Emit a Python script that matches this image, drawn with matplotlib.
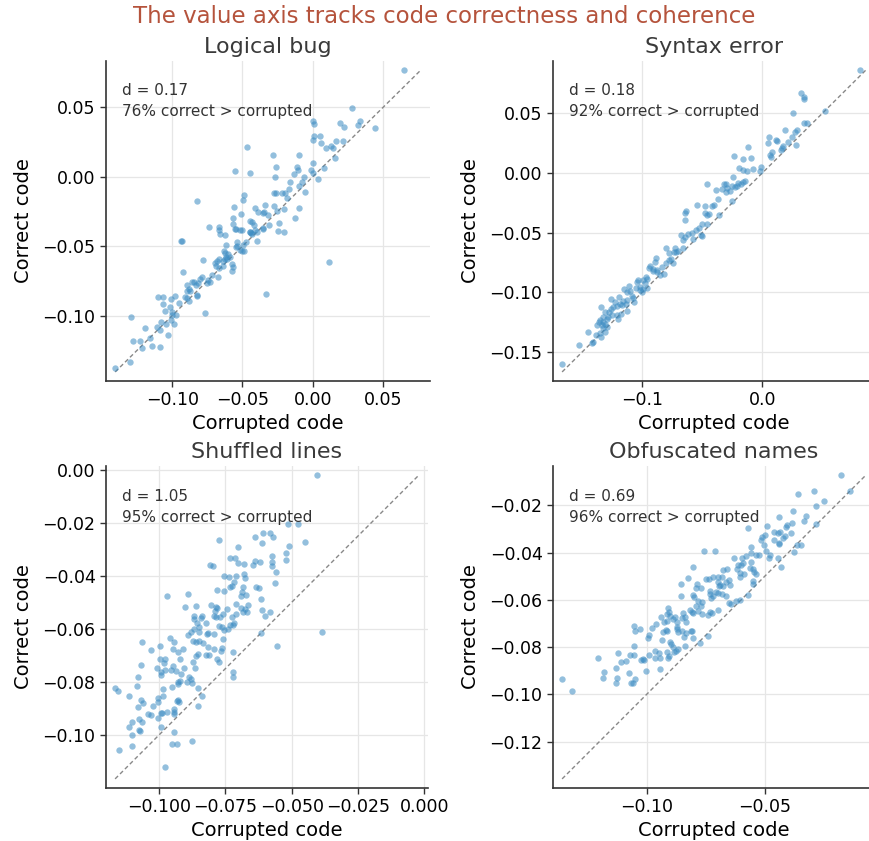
import numpy as np
import matplotlib
matplotlib.use("Agg")
import matplotlib.pyplot as plt
from matplotlib.ticker import MultipleLocator

# (corrupted, correct) value-axis scores per snippet
logical_bug = [
    (0.0645, 0.0768), (0.0281, 0.0495), (0.0, 0.040), (0.001, 0.038), (0.019, 0.039),
    (0.022, 0.036), (0.032, 0.037), (0.0336, 0.040), (0.044, 0.035), (-0.047, 0.0216),
    (0.0, 0.0265), (0.0005, 0.029), (0.005, 0.029), (0.0055, 0.024), (0.0093, 0.021),
    (0.0126, 0.022), (0.0142, 0.0206), (0.0164, 0.0254), (0.0214, 0.0256), (0.0157, 0.0137),
    (-0.0286, 0.0154), (-0.010, 0.0159), (-0.0555, 0.0038), (-0.0448, 0.0028), (-0.026, 0.0069),
    (-0.0269, -0.0005), (-0.011, 0.0069), (-0.0105, 0.0047), (-0.0133, 0.0021), (-0.0164, -0.004),
    (-0.006, 0.0), (-0.0079, -0.0038), (0.0, 0.010), (-0.001, 0.0052), (0.0, 0.0028),
    (0.0079, 0.0062), (0.004, -0.0014), (-0.0098, -0.0066), (-0.0055, -0.0109), (-0.0219, -0.0114),
    (-0.020, -0.0114), (-0.0279, -0.0116), (-0.0262, -0.0118), (-0.0183, -0.0156), (-0.0167, -0.009),
    (-0.0826, -0.0175), (-0.0486, -0.013), (-0.0498, -0.0168), (-0.056, -0.0216), (-0.0507, -0.027),
    (-0.0414, -0.0225), (-0.039, -0.0251), (-0.0338, -0.0204), (-0.0355, -0.0258), (-0.0345, -0.0256),
    (-0.0321, -0.0275), (-0.0274, -0.0211), (-0.0255, -0.0246), (-0.0202, -0.0232), (-0.0095, -0.0225),
    (-0.0126, -0.0294), (-0.024, -0.0332), (-0.025, -0.0389), (-0.0207, -0.0396), (-0.031, -0.0346),
    (-0.0357, -0.037), (-0.0564, -0.0299), (-0.0567, -0.0339), (-0.0552, -0.0377), (-0.0548, -0.0375),
    (-0.0738, -0.036), (-0.0667, -0.036), (-0.0667, -0.0384), (-0.066, -0.0412), (-0.0621, -0.0419),
    (-0.0517, -0.0386), (-0.0505, -0.0384), (-0.0443, -0.0315), (-0.0429, -0.0325), (-0.0421, -0.0344),
    (-0.0445, -0.0397), (-0.0438, -0.0405), (-0.0429, -0.0415), (-0.0448, -0.0400), (-0.0414, -0.0382),
    (-0.0398, -0.0398), (-0.0357, -0.0377), (-0.040, -0.0464), (-0.0476, -0.0472), (-0.0493, -0.0488),
    (-0.0505, -0.0531), (-0.0486, -0.0536), (-0.0536, -0.0472), (-0.054, -0.0495), (-0.0545, -0.0507),
    (-0.0521, -0.0528), (-0.0617, -0.0493), (-0.0631, -0.0538), (-0.0624, -0.0547), (-0.0617, -0.0578),
    (-0.0624, -0.0592), (-0.0607, -0.0595), (-0.0636, -0.0604), (-0.060, -0.0559), (-0.0588, -0.0576),
    (-0.0664, -0.0595), (-0.0681, -0.0607), (-0.0695, -0.0623), (-0.069, -0.0642), (-0.0638, -0.0642),
    (-0.0667, -0.0654), (-0.0571, -0.063), (-0.0567, -0.0647), (-0.0576, -0.0682), (-0.0783, -0.060),
    (-0.0921, -0.0685), (-0.0674, -0.0725), (-0.0719, -0.0704), (-0.0745, -0.0744), (-0.0731, -0.0758),
    (-0.0755, -0.0763), (-0.0788, -0.0725), (-0.0802, -0.0739), (-0.0817, -0.0768), (-0.0845, -0.0761),
    (-0.0831, -0.078), (-0.0857, -0.0754), (-0.0893, -0.078), (-0.0883, -0.0806), (-0.0893, -0.0822),
    (-0.0874, -0.0822), (-0.0821, -0.0848), (-0.0826, -0.0855), (-0.0907, -0.0863), (-0.0893, -0.0872),
    (-0.0883, -0.0891), (-0.095, -0.091), (-0.0981, -0.0858), (-0.1007, -0.0877), (-0.1098, -0.0865),
    (-0.1062, -0.0863), (-0.1064, -0.0917), (-0.1012, -0.0936), (-0.1052, -0.0969), (-0.100, -0.0974),
    (-0.0974, -0.0998), (-0.1000, -0.0995), (-0.0767, -0.0983), (-0.1076, -0.1045), (-0.1045, -0.1057),
    (-0.1005, -0.1033), (-0.0988, -0.1059), (-0.111, -0.108), (-0.1083, -0.1104), (-0.119, -0.1092),
    (-0.1293, -0.1007), (-0.1155, -0.1164), (-0.1031, -0.1142), (-0.1279, -0.118), (-0.1229, -0.1182),
    (-0.1212, -0.1235), (-0.114, -0.1218), (-0.1086, -0.1223), (-0.1298, -0.1336), (-0.1405, -0.1377),
    (-0.0331, -0.0846), (0.0117, -0.0611), (-0.0936, -0.0464), (-0.0931, -0.0464),
]

syntax_error = [
    (0.0814, 0.0861), (0.032, 0.0667), (0.0342, 0.0639), (0.0347, 0.0619), (0.0522, 0.0514),
    (0.0258, 0.050), (0.0342, 0.0417), (0.0369, 0.0417), (0.0286, 0.0361), (0.0272, 0.0339),
    (0.025, 0.030), (0.0278, 0.0233), (0.0189, 0.0356), (0.0211, 0.0256), (0.0164, 0.0208),
    (0.0175, 0.0222), (0.0156, 0.0189), (0.0117, 0.0278), (0.0122, 0.0264), (0.0058, 0.0297),
    (0.005, 0.025), (0.0081, 0.0175), (0.0064, 0.0153), (0.0075, 0.0131), (-0.0117, 0.0217),
    (-0.0233, 0.0139), (-0.0158, 0.0119), (-0.0092, 0.0125), (-0.0192, 0.0042), (-0.0164, 0.0028),
    (-0.0131, 0.0014), (-0.0075, 0.0033), (-0.0011, 0.005), (-0.0022, 0.0014), (-0.0242, -0.0033),
    (-0.0464, -0.0092), (-0.0319, -0.0097), (-0.0306, -0.0089), (-0.0339, -0.0139), (-0.0292, -0.0125),
    (-0.0256, -0.0111), (-0.0225, -0.0119), (-0.0208, -0.0106), (-0.020, -0.0083), (-0.0181, -0.0097),
    (-0.0158, -0.0078), (-0.0144, -0.0069), (-0.0269, -0.0153), (-0.0303, -0.0161), (-0.0389, -0.0147),
    (-0.0367, -0.0222), (-0.0403, -0.0272), (-0.0422, -0.0278), (-0.0256, -0.0236), (-0.0542, -0.0272),
    (-0.0475, -0.0278), (-0.0636, -0.0319), (-0.0647, -0.0339), (-0.0642, -0.0394), (-0.0478, -0.0339),
    (-0.0464, -0.0356), (-0.0442, -0.0347), (-0.0364, -0.035), (-0.0464, -0.043), (-0.0506, -0.043),
    (-0.0528, -0.0458), (-0.0556, -0.0478), (-0.0589, -0.050), (-0.0617, -0.0514), (-0.0681, -0.0522),
    (-0.0644, -0.0533), (-0.0658, -0.0561), (-0.0581, -0.0556), (-0.0503, -0.0528), (-0.0514, -0.0519),
    (-0.0806, -0.0628), (-0.0728, -0.0625), (-0.0719, -0.0661), (-0.0736, -0.0661), (-0.070, -0.0653),
    (-0.0658, -0.0625), (-0.0775, -0.0667), (-0.0764, -0.0722), (-0.0778, -0.0733), (-0.0742, -0.0758),
    (-0.0803, -0.0756), (-0.0817, -0.0847), (-0.0886, -0.0714), (-0.0897, -0.0744), (-0.0936, -0.0783),
    (-0.0944, -0.080), (-0.0839, -0.0792), (-0.0875, -0.0811), (-0.0881, -0.0833), (-0.0914, -0.0822),
    (-0.0964, -0.0889), (-0.0969, -0.0875), (-0.0992, -0.0894), (-0.0981, -0.0922), (-0.1033, -0.0894),
    (-0.1042, -0.0917), (-0.1019, -0.0958), (-0.1053, -0.0967), (-0.1019, -0.0978), (-0.1003, -0.100),
    (-0.1108, -0.0944), (-0.1153, -0.0972), (-0.1103, -0.0986), (-0.1125, -0.100), (-0.1089, -0.1028),
    (-0.1067, -0.1078), (-0.1081, -0.105), (-0.1192, -0.1039), (-0.1164, -0.1069), (-0.1186, -0.1097),
    (-0.1214, -0.1111), (-0.1172, -0.1106), (-0.1261, -0.1056), (-0.1228, -0.1083), (-0.1242, -0.1125),
    (-0.1264, -0.1144), (-0.1275, -0.1167), (-0.1253, -0.1194), (-0.1347, -0.1125), (-0.1308, -0.1167),
    (-0.1325, -0.1208), (-0.1297, -0.1222), (-0.1281, -0.1208), (-0.1175, -0.1178), (-0.120, -0.1222),
    (-0.1131, -0.1156), (-0.1214, -0.1189), (-0.1353, -0.1236), (-0.1325, -0.125), (-0.1375, -0.1272),
    (-0.1339, -0.1278), (-0.1311, -0.1264), (-0.1358, -0.125), (-0.1292, -0.1292), (-0.1325, -0.130),
    (-0.1311, -0.1333), (-0.1353, -0.1339), (-0.1381, -0.1361), (-0.1347, -0.1375), (-0.1453, -0.1333),
    (-0.1414, -0.1417), (-0.1422, -0.1422), (-0.1528, -0.1439), (-0.1667, -0.160), (-0.1125, -0.1062),
    (-0.1136, -0.1097), (-0.0992, -0.0972), (-0.0964, -0.0967), (-0.0908, -0.0806), (-0.0853, -0.0856),
]

shuffled_lines = [
    (-0.0406, -0.0021), (-0.0513, -0.0205), (-0.0477, -0.0206), (-0.0609, -0.024), (-0.058, -0.0239),
    (-0.0569, -0.0255), (-0.0638, -0.0254), (-0.0613, -0.0277), (-0.0773, -0.0267), (-0.0704, -0.0292),
    (-0.0451, -0.0273), (-0.0509, -0.0288), (-0.052, -0.0313), (-0.052, -0.0341), (-0.0575, -0.0327),
    (-0.0575, -0.0348), (-0.0575, -0.0365), (-0.0559, -0.0387), (-0.0618, -0.035), (-0.064, -0.0346),
    (-0.0646, -0.0358), (-0.0678, -0.0356), (-0.0702, -0.0353), (-0.0712, -0.0335), (-0.0731, -0.0332),
    (-0.0807, -0.0358), (-0.0795, -0.0365), (-0.0756, -0.0401), (-0.0735, -0.0405), (-0.071, -0.0402),
    (-0.0681, -0.0395), (-0.0675, -0.0409), (-0.0716, -0.0422), (-0.0726, -0.0437), (-0.0732, -0.0443),
    (-0.0685, -0.0443), (-0.0688, -0.0462), (-0.0672, -0.0472), (-0.0691, -0.0477), (-0.0634, -0.0443),
    (-0.0624, -0.0445), (-0.0783, -0.0453), (-0.0756, -0.0458), (-0.0564, -0.0428), (-0.0614, -0.0487),
    (-0.0612, -0.0528), (-0.058, -0.0538), (-0.0602, -0.0551), (-0.0891, -0.0467), (-0.0969, -0.0478),
    (-0.0902, -0.0518), (-0.086, -0.0514), (-0.0804, -0.0509), (-0.0785, -0.0519), (-0.079, -0.0531),
    (-0.0783, -0.0522), (-0.0708, -0.0507), (-0.0691, -0.052), (-0.0685, -0.0537), (-0.0669, -0.0535),
    (-0.0665, -0.0512), (-0.0676, -0.0527), (-0.0744, -0.0527), (-0.076, -0.0543), (-0.0769, -0.0557),
    (-0.0726, -0.0556), (-0.071, -0.0543), (-0.0867, -0.055), (-0.0869, -0.0562), (-0.0839, -0.0552),
    (-0.084, -0.0560), (-0.0855, -0.0579), (-0.0823, -0.0577), (-0.0849, -0.0594), (-0.0867, -0.060),
    (-0.0791, -0.0552), (-0.0785, -0.0556), (-0.0775, -0.0591), (-0.0763, -0.0594), (-0.0754, -0.0606),
    (-0.0739, -0.060), (-0.0731, -0.0584), (-0.0722, -0.0587), (-0.0716, -0.0579), (-0.076, -0.0638),
    (-0.0791, -0.0621), (-0.0819, -0.0619), (-0.0815, -0.0615), (-0.0891, -0.0623), (-0.0879, -0.0613),
    (-0.0848, -0.0613), (-0.0873, -0.0644), (-0.086, -0.0650), (-0.0848, -0.0647), (-0.0833, -0.0654),
    (-0.0817, -0.0669), (-0.0793, -0.0675), (-0.0823, -0.0698), (-0.081, -0.0698), (-0.0852, -0.0694),
    (-0.086, -0.0703), (-0.0873, -0.0726), (-0.0863, -0.0748), (-0.0783, -0.0713), (-0.0775, -0.0723),
    (-0.0763, -0.0673), (-0.0766, -0.0682), (-0.0722, -0.0688), (-0.0722, -0.0761), (-0.0720, -0.078),
    (-0.0555, -0.0663), (-0.0614, -0.0616), (-0.0387, -0.061), (-0.1062, -0.065), (-0.0958, -0.0634),
    (-0.0943, -0.065), (-0.0908, -0.0675), (-0.093, -0.0688), (-0.0947, -0.0675), (-0.1029, -0.0678),
    (-0.0996, -0.0663), (-0.0995, -0.0713), (-0.0979, -0.0713), (-0.098, -0.0728), (-0.0922, -0.0713),
    (-0.1067, -0.0736), (-0.1007, -0.0747), (-0.0992, -0.0764), (-0.0994, -0.0772), (-0.0979, -0.0755),
    (-0.0955, -0.0754), (-0.0947, -0.0739), (-0.0937, -0.0757), (-0.0918, -0.077), (-0.0905, -0.0748),
    (-0.0888, -0.0782), (-0.0881, -0.0789), (-0.0876, -0.0804), (-0.0893, -0.0799), (-0.0927, -0.080),
    (-0.0928, -0.0808), (-0.0922, -0.0795), (-0.108, -0.078), (-0.1083, -0.0815), (-0.0985, -0.0826),
    (-0.0951, -0.082), (-0.0854, -0.0821), (-0.1165, -0.0824), (-0.1156, -0.0833), (-0.1114, -0.0854),
    (-0.1068, -0.0867), (-0.106, -0.0881), (-0.1077, -0.0893), (-0.1005, -0.0862), (-0.1003, -0.0877),
    (-0.0986, -0.0854), (-0.0933, -0.087), (-0.0926, -0.0877), (-0.0929, -0.0867), (-0.1021, -0.0892),
    (-0.1043, -0.0921), (-0.1030, -0.0925), (-0.0990, -0.0915), (-0.0991, -0.0918), (-0.097, -0.0912),
    (-0.0945, -0.0902), (-0.0945, -0.0912), (-0.0945, -0.0921), (-0.1003, -0.0936), (-0.0994, -0.097),
    (-0.1074, -0.094), (-0.1062, -0.0952), (-0.1102, -0.0952), (-0.1112, -0.0969), (-0.1074, -0.098),
    (-0.1072, -0.0984), (-0.1101, -0.1001), (-0.1101, -0.1043), (-0.115, -0.1057), (-0.0945, -0.099),
    (-0.0951, -0.1033), (-0.0931, -0.1034), (-0.0877, -0.1021), (-0.0977, -0.112), (-0.0853, -0.0892),
    (-0.0839, -0.0854),
]

obfuscated_names = [
    (-0.0177, -0.0072), (-0.0139, -0.0139), (-0.0291, -0.014), (-0.0358, -0.0151), (-0.0249, -0.018),
    (-0.0282, -0.0204), (-0.0382, -0.0225), (-0.0441, -0.0249), (-0.0324, -0.0245), (-0.0333, -0.0265),
    (-0.0386, -0.0273), (-0.0284, -0.028), (-0.0404, -0.0284), (-0.0409, -0.029), (-0.0572, -0.0297),
    (-0.0491, -0.0287), (-0.0463, -0.0311), (-0.0445, -0.0315), (-0.0437, -0.0311), (-0.0388, -0.0315),
    (-0.0416, -0.0330), (-0.0424, -0.0337), (-0.0497, -0.0327), (-0.0511, -0.0335), (-0.0515, -0.0348),
    (-0.0459, -0.0345), (-0.0438, -0.036), (-0.0440, -0.0364), (-0.0365, -0.0368), (-0.0347, -0.0369),
    (-0.0375, -0.0398), (-0.0558, -0.0375), (-0.0504, -0.0369), (-0.0494, -0.0392), (-0.0525, -0.0409),
    (-0.0539, -0.041), (-0.056, -0.0402), (-0.0483, -0.0421), (-0.0476, -0.0412), (-0.0445, -0.0424),
    (-0.0431, -0.046), (-0.0756, -0.0393), (-0.0709, -0.0395), (-0.0629, -0.0423), (-0.0596, -0.0422),
    (-0.0579, -0.0413), (-0.0591, -0.0445), (-0.060, -0.0454), (-0.056, -0.0440), (-0.0551, -0.0468),
    (-0.0562, -0.0464), (-0.0544, -0.0483), (-0.0537, -0.049), (-0.0612, -0.0452), (-0.0617, -0.0468),
    (-0.0603, -0.0485), (-0.0587, -0.0492), (-0.0605, -0.0504), (-0.0803, -0.0461), (-0.0676, -0.0473),
    (-0.066, -0.0471), (-0.0680, -0.0504), (-0.0697, -0.0505), (-0.0718, -0.0504), (-0.0735, -0.0511),
    (-0.0823, -0.0508), (-0.0853, -0.0533), (-0.0855, -0.0583), (-0.075, -0.0512), (-0.0768, -0.0548),
    (-0.0789, -0.0533), (-0.0791, -0.0548), (-0.0699, -0.0523), (-0.0691, -0.0539), (-0.0694, -0.0542),
    (-0.0677, -0.0542), (-0.0666, -0.0525), (-0.0650, -0.0518), (-0.0646, -0.0539), (-0.0548, -0.0522),
    (-0.0551, -0.0531), (-0.057, -0.0579), (-0.0733, -0.0564), (-0.0732, -0.0575), (-0.0708, -0.0568),
    (-0.0718, -0.0585), (-0.0697, -0.0572), (-0.0681, -0.0575), (-0.0663, -0.0582), (-0.0729, -0.0593),
    (-0.0802, -0.0581), (-0.0798, -0.0586), (-0.0782, -0.0607), (-0.0792, -0.0624), (-0.0768, -0.0624),
    (-0.0764, -0.0610), (-0.0622, -0.0603), (-0.0605, -0.0599), (-0.0652, -0.0613), (-0.0643, -0.0618),
    (-0.0697, -0.0641), (-0.0722, -0.0655), (-0.0742, -0.0664), (-0.0732, -0.0652), (-0.0816, -0.0645),
    (-0.0809, -0.0652), (-0.0805, -0.0655), (-0.0782, -0.0649), (-0.0764, -0.0659), (-0.0909, -0.0634),
    (-0.0904, -0.0652), (-0.0912, -0.0662), (-0.089, -0.0681), (-0.0902, -0.0667), (-0.0881, -0.0674),
    (-0.0848, -0.0655), (-0.0851, -0.0678), (-0.0837, -0.0672), (-0.0834, -0.0695), (-0.0941, -0.0671),
    (-0.0961, -0.0701), (-0.0928, -0.0695), (-0.0916, -0.0688), (-0.093, -0.0737), (-0.0913, -0.0734),
    (-0.092, -0.0726), (-0.0871, -0.0695), (-0.087, -0.0716), (-0.0872, -0.0723), (-0.0867, -0.0737),
    (-0.0851, -0.0731), (-0.0843, -0.0758), (-0.0834, -0.0740), (-0.0809, -0.0734), (-0.0812, -0.073),
    (-0.0806, -0.0762), (-0.1055, -0.0709), (-0.1048, -0.0733), (-0.1027, -0.0723), (-0.0979, -0.072),
    (-0.0989, -0.0747), (-0.0996, -0.0763), (-0.0937, -0.0771), (-0.0902, -0.0780), (-0.0898, -0.0787),
    (-0.0888, -0.0798), (-0.0884, -0.0819), (-0.0874, -0.0818), (-0.0867, -0.0808), (-0.0916, -0.0819),
    (-0.0904, -0.0836), (-0.0837, -0.0794), (-0.0774, -0.0784), (-0.0742, -0.0754), (-0.1053, -0.0796),
    (-0.1072, -0.0833), (-0.1055, -0.0833), (-0.0989, -0.0833), (-0.1017, -0.0850), (-0.1010, -0.0854),
    (-0.1024, -0.0856), (-0.0963, -0.0818), (-0.0946, -0.0826), (-0.0966, -0.0848), (-0.0942, -0.0848),
    (-0.0910, -0.0848), (-0.1003, -0.0900), (-0.0945, -0.0893), (-0.1122, -0.0826), (-0.111, -0.0864),
    (-0.1086, -0.0859), (-0.1206, -0.0847), (-0.1129, -0.089), (-0.1181, -0.0907), (-0.1185, -0.0929),
    (-0.1126, -0.0931), (-0.1128, -0.0951), (-0.1073, -0.0911), (-0.1065, -0.0952), (-0.1056, -0.0952),
    (-0.1049, -0.0935), (-0.1358, -0.0936), (-0.1316, -0.0985),
]

titles = ["Logical bug", "Syntax error", "Shuffled lines", "Obfuscated names"]
cohens_d = [0.17, 0.18, 1.05, 0.69]
pct_correct_higher = [76, 92, 95, 96]
x_steps = [0.05, 0.1, 0.025, 0.05]
y_steps = [0.05, 0.05, 0.02, 0.02]

panels = [logical_bug, syntax_error, shuffled_lines, obfuscated_names]

W, H = 870, 841
fig = plt.figure(figsize=(W / 100, H / 100), dpi=100)

# axes boxes in pixels: left, top, right, bottom
boxes = [(106, 61, 430, 381), (553, 61, 875, 381),
         (106, 466, 428, 788), (553, 466, 875, 788)]

for pts, title, d, pct, xs_, ys_, (l, t, r, b) in zip(
        panels, titles, cohens_d, pct_correct_higher, x_steps, y_steps, boxes):
    ax = fig.add_axes([l / W, (H - b) / H, (r - l) / W, (b - t) / H])
    x, y = np.array(pts).T
    lo = min(x.min(), y.min())
    hi = max(x.max(), y.max())
    ax.scatter(x, y, s=21, color="#3b8bc2", alpha=0.55, linewidths=0, zorder=3)
    ax.plot([lo, hi], [lo, hi], ls="--", color="#888888", lw=1, dashes=(3, 2), zorder=2)
    pad = 0.03 * (hi - lo)
    ax.set_xlim(lo - pad, hi + pad)
    ax.set_ylim(lo - pad, hi + pad)

    ax.xaxis.set_major_locator(MultipleLocator(xs_))
    ax.yaxis.set_major_locator(MultipleLocator(ys_))
    ax.grid(True, color="#e6e6e6", lw=0.9, zorder=0)
    ax.set_axisbelow(True)
    for side in ["top", "right"]:
        ax.spines[side].set_visible(False)
    for side in ["left", "bottom"]:
        ax.spines[side].set_color("#333333")
        ax.spines[side].set_linewidth(1.2)
    ax.tick_params(labelsize=12.5, length=4, width=1, color="#333333")

    ax.set_title(title, fontsize=16, color="#3a3a3a", pad=6)
    ax.set_xlabel("Corrupted code", fontsize=14, labelpad=3)
    ax.set_ylabel("Correct code", fontsize=14, labelpad=7)
    ax.text(0.05, 0.93, f"d = {d:.2f}\n{pct}% correct > corrupted",
            transform=ax.transAxes, ha="left", va="top", fontsize=11,
            color="#333333", linespacing=1.5)

fig.text(0.51, 0.98, "The value axis tracks code correctness and coherence",
         ha="center", va="center", fontsize=16.5, color="#b5533c")

fig.savefig("out.png", dpi=100)
